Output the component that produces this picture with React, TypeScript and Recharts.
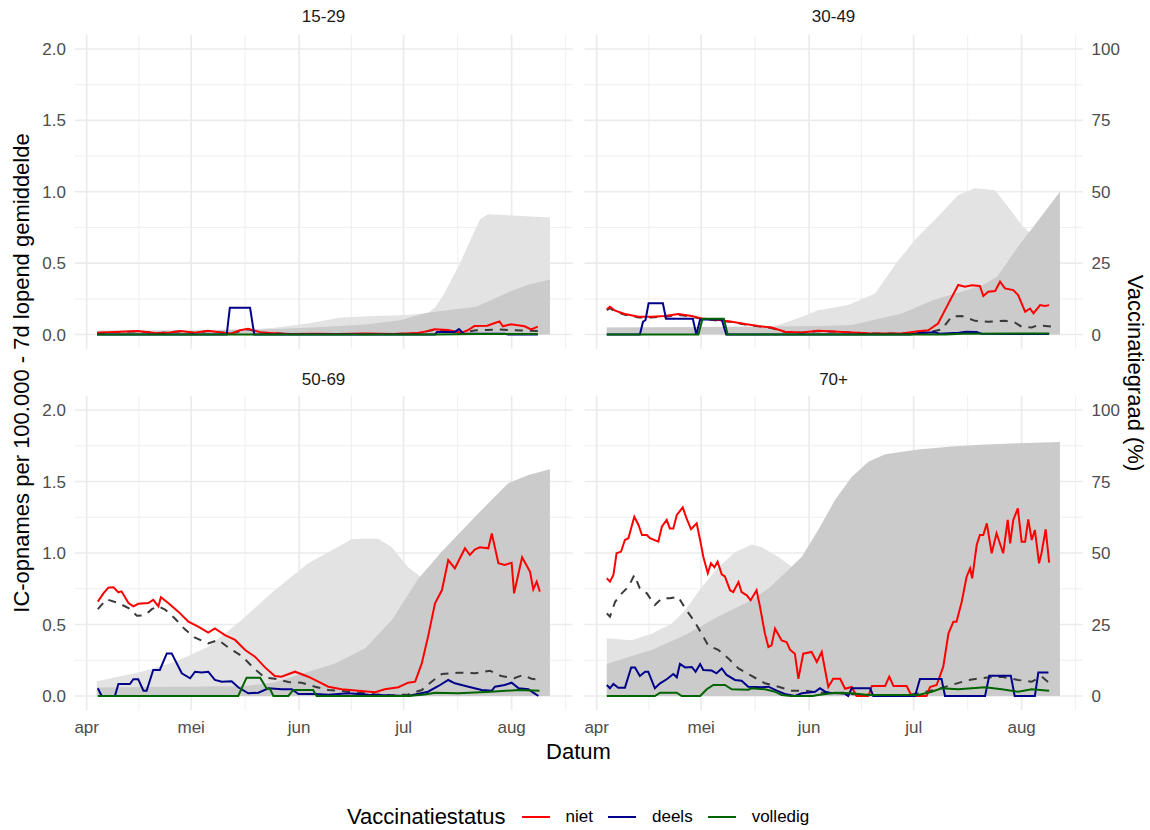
import React from 'react';
import { ComposedChart, Line, Area, XAxis, YAxis, CartesianGrid } from 'recharts';

type Pt = [number, number];

// dag 0 = 1 april
const monthDays = [0, 30, 61, 91, 122];
const monthLabels = ['apr', 'mei', 'jun', 'jul', 'aug'];
const minorDays = [15, 45.5, 76, 106.5, 137.5];
const rateTicks = [0, 0.5, 1, 1.5, 2];
const rateMinor = [0.25, 0.75, 1.25, 1.75];
const pctTicks = [0, 25, 50, 75, 100];

// ---- 15-29 ----
const niet1529: Pt[] = [[3,0.012],[8,0.018],[14.7,0.024],[20,0.009],[24,0.015],[27,0.024],[31,0.012],[34.8,0.026],[38.6,0.014],[41.5,0.008],[44,0.03],[46.3,0.04],[50,0.015],[55,0.008],[58.7,0.003],[65,0.006],[72,0.004],[80,0.008],[88,0.004],[95,0.01],[97.5,0.022],[99.8,0.037],[103.7,0.032],[107.5,0.012],[109.4,0.03],[111.3,0.059],[115,0.062],[117,0.079],[118.5,0.092],[119.5,0.058],[121.8,0.072],[125.7,0.058],[127.6,0.036],[129.5,0.055]];
const deels1529: Pt[] = [[3,0],[40.2,0],[41.1,0.188],[46.9,0.188],[48.1,0],[100,0],[100.6,0.017],[105.6,0.017],[106.9,0.038],[108.1,0.008],[120,0.005],[121,0],[129.5,0]];
const volledig1529: Pt[] = [[3,0],[100,0],[112,0.003],[129.5,0.004]];
const totaal1529: Pt[] = [[3,0.011],[14.7,0.022],[20,0.009],[27,0.022],[31,0.011],[34.8,0.024],[41.5,0.008],[46.3,0.036],[50,0.014],[58.7,0.003],[72,0.004],[88,0.004],[95,0.009],[99.8,0.033],[103.7,0.028],[107.5,0.01],[111.3,0.028],[115,0.032],[118.5,0.035],[122,0.03],[126,0.028],[130.6,0.024]];
const eenDosis1529: Pt[] = [[3,1.5],[30,1.6],[50,2],[54,2.4],[63.5,3.9],[73,6],[82.6,6.5],[92,6.8],[98,7.5],[100,9.5],[102.5,14],[107,24.5],[110.5,34],[113,40.5],[115.3,42.1],[121,41.8],[133,41]];
const volDosis1529: Pt[] = [[3,1.2],[30,1.3],[50,1.8],[65,2.5],[80,3.5],[90,5],[97.5,7.5],[105,8.8],[111.8,9.7],[116,12],[121.4,15],[127,17.5],[133,19.3]];

// ---- 30-49 ----
const niet3049: Pt[] = [[2.9,0.177],[3.8,0.195],[5.3,0.167],[8.1,0.144],[12,0.125],[15.8,0.125],[19.6,0.13],[23.4,0.144],[27.3,0.13],[30.1,0.113],[34.9,0.101],[38.8,0.09],[42.6,0.073],[46.4,0.059],[50.2,0.049],[54,0.019],[58.9,0.014],[63.6,0.026],[69.4,0.019],[73.2,0.014],[78,0.009],[82.8,0.007],[87.6,0.007],[92.3,0.023],[95.2,0.03],[98,0.077],[101,0.218],[103.8,0.347],[105.7,0.335],[107.7,0.345],[110,0.34],[111,0.27],[112.4,0.3],[114.4,0.305],[115.8,0.37],[117.2,0.323],[119.6,0.311],[121,0.276],[123,0.159],[124.4,0.182],[125.4,0.148],[127.3,0.206],[128.7,0.2],[129.9,0.206]];
const deels3049: Pt[] = [[2.9,0],[12.4,0],[13.3,0.09],[14,0.1],[14.9,0.219],[19,0.219],[19.9,0.11],[27.6,0.11],[28.6,0],[29.7,0.106],[35.9,0.106],[37.2,0],[90,0],[93,0.01],[97,0.015],[98.5,0.005],[104,0.012],[106,0.02],[109,0.018],[110.5,0.005],[120,0.003],[129.9,0.003]];
const volledig3049: Pt[] = [[2.9,0],[29.2,0],[30.4,0.11],[36.5,0.11],[37.6,0],[100,0],[105,0.005],[129.9,0.008]];
const totaal3049: Pt[] = [[2.9,0.17],[3.8,0.185],[5.3,0.16],[8.1,0.138],[12,0.12],[15.8,0.12],[19.6,0.125],[23.4,0.138],[27.3,0.125],[30.1,0.11],[34.9,0.097],[38.8,0.087],[42.6,0.07],[46.4,0.057],[50.2,0.046],[54,0.018],[58.9,0.013],[63.6,0.024],[69.4,0.018],[78,0.008],[87.6,0.006],[92.3,0.015],[96,0.02],[99,0.035],[102,0.128],[104.8,0.13],[108.6,0.096],[112.4,0.089],[117.2,0.096],[120,0.085],[122,0.055],[124.9,0.05],[126.8,0.066],[130.6,0.055]];
const eenDosis3049: Pt[] = [[2.9,2.4],[20,2.4],[50,2.6],[54,4],[58.9,6.2],[63.6,8.5],[72.2,10.3],[79.9,14.4],[86.6,26],[92,34],[98,41.3],[103.8,48.9],[108.6,51.2],[114.4,50.5],[118,44.8],[122,38.4],[124,36],[128,31],[133,26]];
const volDosis3049: Pt[] = [[2.9,2.5],[30,2.6],[50,2.8],[63.6,3],[73.2,3.3],[87.6,7.4],[96.7,12.1],[106.3,15.6],[111,17.4],[115,20.3],[121,30.8],[126.8,40],[133,50]];

// ---- 50-69 ----
const niet5069: Pt[] = [[3.2,0.66],[4.8,0.718],[6.2,0.758],[7.7,0.76],[9.1,0.725],[10,0.732],[12,0.65],[13.4,0.627],[14.8,0.645],[17.7,0.65],[19.1,0.672],[20.6,0.627],[21.3,0.69],[23.4,0.65],[26.3,0.59],[29.2,0.52],[32,0.485],[34.9,0.443],[36.8,0.473],[39.7,0.426],[42.6,0.392],[45.5,0.322],[48.3,0.275],[51.2,0.2],[54,0.14],[55.9,0.135],[59.8,0.17],[63.6,0.135],[66.5,0.1],[69.4,0.065],[73.2,0.047],[78,0.037],[82.8,0.026],[85.6,0.047],[89.5,0.061],[92.3,0.093],[94.3,0.1],[96.2,0.228],[98,0.415],[100,0.648],[102,0.741],[103.8,0.951],[105.7,0.893],[108.6,1.033],[110,0.986],[111.5,1.026],[112.9,1.04],[115.3,1.033],[116.3,1.137],[118.2,0.928],[120,0.916],[122,0.932],[122.7,0.718],[125,0.97],[127.3,0.869],[128.2,0.746],[129.2,0.8],[130.1,0.73]];
const deels5069: Pt[] = [[3.2,0.054],[4.3,0],[8.1,0],[9.1,0.084],[12.4,0.084],[13.4,0.117],[14.8,0.117],[16.3,0.037],[17.2,0.037],[19.1,0.182],[21,0.182],[23,0.298],[24.4,0.298],[27.3,0.159],[29.7,0.124],[31.1,0.17],[33,0.165],[34.9,0.17],[36.8,0.112],[38.8,0.1],[41.6,0.103],[43.5,0.061],[46.4,0.019],[49.3,0.023],[52.2,0.054],[56,0.047],[58.9,0.047],[60.8,0.014],[65.6,0.014],[69.4,0.009],[75,0.019],[80.9,0.009],[92.3,0],[98,0.03],[101,0.07],[103.8,0.112],[105.7,0.089],[109.6,0.065],[113.4,0.042],[116.3,0.037],[117.2,0.065],[120,0.077],[122,0.093],[124,0.054],[126.8,0.047],[128.2,0.023],[129.7,0]];
const volledig5069: Pt[] = [[3.2,0],[43.5,0],[45.9,0.128],[49.8,0.128],[51.7,0.05],[52.6,0.05],[53.6,0],[57.9,0],[59.3,0.042],[65,0.042],[66,0],[92.3,0],[97,0.01],[100,0.023],[106.7,0.019],[116,0.03],[124,0.042],[130,0.037]];
const totaal5069: Pt[] = [[3.2,0.607],[5.7,0.676],[9.1,0.65],[12,0.615],[14.4,0.561],[16.7,0.565],[18.7,0.607],[20.6,0.627],[22.5,0.605],[25.4,0.54],[28.2,0.466],[31.1,0.408],[34.9,0.368],[37.8,0.392],[40.7,0.338],[44.5,0.28],[48.3,0.187],[51.2,0.128],[54,0.121],[57.9,0.098],[61.7,0.093],[65.6,0.065],[69.4,0.042],[73.2,0.035],[78,0.023],[82.8,0.012],[87.6,0.005],[92.3,0.01],[96.2,0.042],[99,0.1],[102,0.154],[106.7,0.163],[111.5,0.159],[115.8,0.177],[119,0.14],[122.7,0.124],[125.3,0.147],[127.7,0.121],[130,0.112]];
const eenDosis5069: Pt[] = [[2.9,5.2],[15.8,8.5],[25.4,12],[34.9,17.2],[44.5,26.6],[54,37],[63.6,46.4],[71.3,51.6],[76,54.8],[80,55.1],[83.7,55],[87.6,52],[92.3,45],[95.2,42.3],[100,37],[110,28],[120,20],[133,12]];
const volDosis5069: Pt[] = [[2.9,3],[25.4,3.2],[44.5,3.4],[54,4.7],[63.6,8.5],[71.3,11.4],[80,16.7],[87.6,26.6],[95.2,41],[101.9,50.4],[111.5,62.7],[121,74.4],[126.8,77.3],[133,79.3]];

// ---- 70+ ----
const niet70: Pt[] = [[2.9,0.823],[3.8,0.8],[4.8,0.846],[5.7,0.998],[7,1.01],[8.1,1.091],[9.1,1.103],[10.8,1.254],[12,1.196],[13,1.126],[14.4,1.126],[15.3,1.103],[17.7,1.08],[18.7,1.184],[20.1,1.231],[21,1.172],[22,1.172],[23,1.266],[24.7,1.319],[25.8,1.242],[27.1,1.166],[28.7,1.207],[29.7,1.091],[30.6,0.974],[31.9,0.858],[32.8,0.928],[33.8,0.9],[34.7,0.939],[35.9,0.851],[36.8,0.837],[38.3,0.739],[39.2,0.727],[40.7,0.797],[41.6,0.727],[43.1,0.704],[44.2,0.669],[45.9,0.739],[46.9,0.622],[48.3,0.436],[49.3,0.343],[50.2,0.354],[51.2,0.471],[53.1,0.389],[54.5,0.378],[55.5,0.324],[56.9,0.296],[57.9,0.12],[59.3,0.296],[61.7,0.308],[63.2,0.238],[64.6,0.308],[66.5,0.063],[67.9,0.12],[69.9,0.12],[71.3,0.051],[73.2,0.063],[74.6,0],[78,0],[79,0.07],[82.8,0.07],[84,0.135],[85.2,0.07],[89,0.07],[90.4,0],[94.7,0],[95.7,0.063],[97.6,0.077],[99.5,0.205],[101,0.438],[102.4,0.519],[103.3,0.519],[104.8,0.659],[106.2,0.834],[107.2,0.893],[107.8,0.823],[109.1,1.056],[110,1.126],[111,1.126],[112,1.207],[113.4,0.998],[114.8,1.138],[116.7,0.998],[118,1.231],[118.7,1.068],[119.6,1.231],[120.9,1.312],[122,1.079],[123,1.079],[123.9,1.235],[124.9,1.091],[125.8,1.161],[127,0.928],[127.7,0.998],[128.9,1.166],[129.9,0.932]];
const deels70: Pt[] = [[2.9,0.077],[3.8,0.054],[4.8,0.084],[6.2,0.058],[8.1,0.058],[9.9,0.2],[11,0.2],[12.4,0.14],[13.9,0.17],[14.8,0.17],[16.7,0.054],[18.2,0.089],[20.1,0.117],[22,0.154],[23,0.131],[23.9,0.224],[25.4,0.2],[27.3,0.203],[28.4,0.17],[29.7,0.224],[30.6,0.182],[33,0.178],[34.4,0.159],[35.9,0.193],[37.3,0.147],[39.7,0.112],[41.6,0.107],[43.5,0.065],[47.4,0.061],[49.3,0.065],[51.7,0.037],[54,0.014],[56.9,0],[58.9,0.019],[62.7,0.03],[64.1,0.054],[65.6,0.03],[67.5,0.019],[70.8,0.023],[72.2,0],[73.2,0.054],[78.5,0.054],[79.4,0],[91.4,0],[92.8,0.119],[99,0.119],[100,0],[111.5,0],[112.7,0.142],[118.9,0.142],[120,0],[125.8,0],[126.8,0.165],[129.7,0.165]];
const volledig70: Pt[] = [[2.9,0],[16.7,0],[18.2,0.023],[23,0.023],[24.4,0],[29.7,0],[31.6,0.047],[33.5,0.077],[36.8,0.077],[38.8,0.047],[43.5,0.044],[44.5,0.054],[48.3,0.047],[51.2,0.03],[53.1,0.007],[56,0],[62,0],[63.6,0.007],[68.4,0.023],[73.2,0.019],[78,0.007],[92.3,0.007],[96.2,0.03],[99,0.054],[103.8,0.047],[111.5,0.061],[116.3,0.047],[121,0.03],[124.9,0.047],[129.9,0.037]];
const totaal70: Pt[] = [[2.9,0.578],[3.8,0.555],[5.3,0.659],[7.2,0.718],[9.1,0.764],[10.8,0.846],[12.4,0.753],[14.4,0.718],[16.7,0.636],[18.7,0.683],[21,0.683],[23.4,0.694],[25.4,0.613],[27.8,0.531],[30.1,0.438],[32,0.354],[34.9,0.322],[37.8,0.263],[40.7,0.193],[44.5,0.14],[48.3,0.089],[52.2,0.065],[56,0.037],[59.8,0.037],[63.6,0.023],[69.4,0.019],[75.1,0.01],[82.8,0.003],[88.5,0.003],[92.3,0.019],[97.1,0.042],[101.9,0.077],[106.7,0.112],[111.5,0.128],[116.3,0.135],[121,0.112],[124.9,0.1],[127.8,0.135],[130.6,0.077]];
const eenDosis70: Pt[] = [[2.9,20.2],[10,19.5],[15.8,21.8],[21.5,25.3],[25.4,30],[30.1,38],[34.9,45],[39.7,50.3],[44.5,53],[47.4,52],[52.2,48.6],[56,45.2],[60,40],[65,32],[70,24],[80,12],[90,6],[100,4],[133,3]];
const volDosis70: Pt[] = [[2.9,11.2],[11,14.3],[15.8,16.1],[20.6,18.7],[25.4,21.3],[30.1,24.5],[34.9,27.8],[39.7,30.7],[44.5,33.6],[49.3,37.6],[54,42.9],[58.9,48.7],[63.6,58],[68.4,68.5],[73.2,76.6],[78,81.9],[82.8,84.5],[92.3,86.2],[101.9,87.2],[111.5,87.9],[121,88.4],[133,88.8]];

const panels = [
  { title: '15-29', niet: niet1529, deels: deels1529, volledig: volledig1529, totaal: totaal1529, eenDosis: eenDosis1529, volDosis: volDosis1529 },
  { title: '30-49', niet: niet3049, deels: deels3049, volledig: volledig3049, totaal: totaal3049, eenDosis: eenDosis3049, volDosis: volDosis3049 },
  { title: '50-69', niet: niet5069, deels: deels5069, volledig: volledig5069, totaal: totaal5069, eenDosis: eenDosis5069, volDosis: volDosis5069 },
  { title: '70+', niet: niet70, deels: deels70, volledig: volledig70, totaal: totaal70, eenDosis: eenDosis70, volDosis: volDosis70 },
];

const statusConfig = [
  { key: 'niet', label: 'niet', color: '#FF0000' },
  { key: 'deels', label: 'deels', color: '#00008B' },
  { key: 'volledig', label: 'volledig', color: '#006400' },
];

const FONT = '"Liberation Sans", Arial, Helvetica, sans-serif';
const X_DOMAIN: [number, number] = [-3.5, 139.5];
const tickStyle = { fontSize: 17, fill: '#4D4D4D', fontFamily: FONT };

const toPts = (arr: Pt[]) => arr.map(([d, v]) => ({ d, v }));

function Panel({ p, col, row }: { p: (typeof panels)[number]; col: number; row: number }) {
  const isLeft = col === 0;
  const isBottom = row === 1;
  const width = isLeft ? 585 : 557.6;
  const height = isBottom ? 380 : 354;
  const margin = {
    top: isBottom ? 35.7 : 34.7,
    right: isLeft ? 12.4 : 0,
    bottom: isBottom ? 0 : 5.2,
    left: isLeft ? 0 : 9.5,
  };
  const plotLeft = (isLeft ? 0 : 575) + margin.left + (isLeft ? 74.5 : 0);
  const plotRight = (isLeft ? 0 : 575) + width - margin.right - (isLeft ? 0 : 50);
  return (
    <>
      <div
        style={{
          position: 'absolute',
          left: (plotLeft + plotRight) / 2,
          top: isBottom ? 380 : 17,
          transform: 'translate(-50%, -50%)',
          fontSize: 17,
          color: '#1A1A1A',
          whiteSpace: 'nowrap',
        }}
      >
        {p.title}
      </div>
      <div style={{ position: 'absolute', left: isLeft ? 0 : 575, top: isBottom ? 360 : 0 }}>
        <ComposedChart width={width} height={height} margin={margin}>
          <CartesianGrid stroke="#EDEDED" strokeWidth={0.9} horizontalValues={rateMinor} verticalValues={minorDays} />
          <CartesianGrid stroke="#EBEBEB" strokeWidth={1.7} horizontalValues={rateTicks} verticalValues={monthDays} />
          <XAxis
            type="number"
            dataKey="d"
            domain={X_DOMAIN}
            allowDataOverflow
            ticks={monthDays}
            interval={0}
            tickFormatter={(v: number) => monthLabels[monthDays.indexOf(v)] ?? ''}
            hide={!isBottom}
            height={29.7}
            axisLine={false}
            tickLine={false}
            tickSize={6}
            tickMargin={5}
            tick={tickStyle}
          />
          <YAxis
            type="number"
            domain={[-0.1, 2.1]}
            allowDataOverflow
            ticks={rateTicks}
            interval={0}
            tickFormatter={(v: number) => v.toFixed(1)}
            hide={!isLeft}
            width={74.5}
            axisLine={false}
            tickLine={false}
            tickSize={6}
            tickMargin={2.5}
            tick={tickStyle}
          />
          <YAxis
            yAxisId="pct"
            orientation="right"
            type="number"
            domain={[-5, 105]}
            allowDataOverflow
            ticks={pctTicks}
            interval={0}
            hide={isLeft}
            width={50}
            axisLine={false}
            tickLine={false}
            tickSize={6}
            tickMargin={3}
            tick={{ ...tickStyle, textAnchor: 'start' }}
          />
          <Area yAxisId="pct" data={toPts(p.eenDosis)} dataKey="v" type="linear" baseValue={0} stroke="none" fill="#E3E3E3" fillOpacity={1} isAnimationActive={false} />
          <Area yAxisId="pct" data={toPts(p.volDosis)} dataKey="v" type="linear" baseValue={0} stroke="none" fill="#CBCBCB" fillOpacity={1} isAnimationActive={false} />
          <Line data={toPts(p.totaal)} dataKey="v" type="linear" stroke="#3A3A3A" strokeWidth={2} strokeDasharray="8 7" dot={false} activeDot={false} isAnimationActive={false} />
          <Line data={toPts(p.niet)} dataKey="v" type="linear" stroke={statusConfig[0].color} strokeWidth={2} dot={false} activeDot={false} isAnimationActive={false} />
          <Line data={toPts(p.deels)} dataKey="v" type="linear" stroke={statusConfig[1].color} strokeWidth={2} dot={false} activeDot={false} isAnimationActive={false} />
          <Line data={toPts(p.volledig)} dataKey="v" type="linear" stroke={statusConfig[2].color} strokeWidth={2} dot={false} activeDot={false} isAnimationActive={false} />
        </ComposedChart>
      </div>
    </>
  );
}

export default function App() {
  return (
    <div
      style={{
        position: 'absolute',
        left: 0,
        top: 0,
        width: 1150,
        height: 830,
        background: '#FFFFFF',
        fontFamily: FONT,
        overflow: 'hidden',
      }}
    >
      {panels.map((p, i) => (
        <Panel key={p.title} p={p} col={i % 2} row={Math.floor(i / 2)} />
      ))}
      <div
        style={{
          position: 'absolute',
          left: 22,
          top: 372.5,
          transform: 'translate(-50%, -50%) rotate(-90deg)',
          fontSize: 22,
          color: '#000',
          whiteSpace: 'nowrap',
        }}
      >
        IC-opnames per 100.000 - 7d lopend gemiddelde
      </div>
      <div
        style={{
          position: 'absolute',
          left: 1135,
          top: 372.5,
          transform: 'translate(-50%, -50%) rotate(90deg)',
          fontSize: 22,
          color: '#000',
          whiteSpace: 'nowrap',
        }}
      >
        Vaccinatiegraad (%)
      </div>
      <div
        style={{
          position: 'absolute',
          left: 578.5,
          top: 752,
          transform: 'translate(-50%, -50%)',
          fontSize: 22,
          color: '#000',
        }}
      >
        Datum
      </div>
      <div
        style={{
          position: 'absolute',
          left: 347,
          top: 817,
          transform: 'translateY(-50%)',
          display: 'flex',
          alignItems: 'center',
          whiteSpace: 'nowrap',
        }}
      >
        <span style={{ fontSize: 22, color: '#000', marginRight: 16 }}>Vaccinatiestatus</span>
        {statusConfig.map((s, i) => (
          <span key={s.key} style={{ display: 'flex', alignItems: 'center', marginRight: i < statusConfig.length - 1 ? 15 : 0 }}>
            <svg width={28} height={6}>
              <line x1={0} x2={28} y1={3} y2={3} stroke={s.color} strokeWidth={2} />
            </svg>
            <span style={{ fontSize: 17, color: '#000', marginLeft: 16 }}>{s.label}</span>
          </span>
        ))}
      </div>
    </div>
  );
}
